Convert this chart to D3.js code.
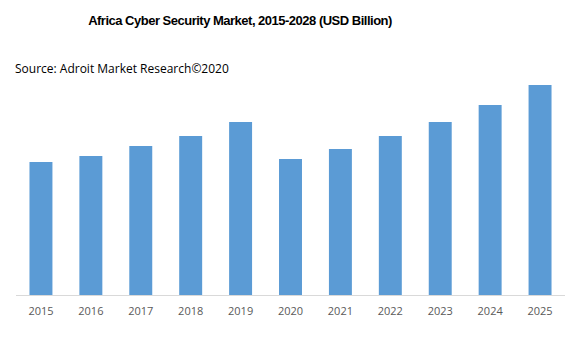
<!DOCTYPE html>
<html>
<head>
<meta charset="utf-8">
<script src="https://cdn.jsdelivr.net/npm/d3@7"></script>
<style>
  html, body { margin: 0; padding: 0; background: #fff; }
  svg { display: block; }
</style>
</head>
<body>
<svg id="chart" width="569" height="338"></svg>
<script>
// Africa cyber security market size by year (USD Billion)
const years = ["2015", "2016", "2017", "2018", "2019", "2020", "2021", "2022", "2023", "2024", "2025"];
const marketValues = [1.33, 1.39, 1.49, 1.59, 1.73, 1.36, 1.46, 1.59, 1.73, 1.90, 2.10];

const chartTitle = "Africa Cyber Security Market, 2015-2028 (USD Billion)";
const sourceNote = "Source: Adroit Market Research\u00A92020";

const svg = d3.select("#chart");
const plot = { left: 16, right: 565, top: 85, bottom: 295 };

const x = d3.scaleBand()
  .domain(years)
  .range([plot.left, plot.right])
  .paddingInner(0.54)
  .paddingOuter(0.27);

const y = d3.scaleLinear()
  .domain([0, d3.max(marketValues)])
  .range([plot.bottom, plot.top]);

// Title
svg.append("text")
  .attr("x", 240)
  .attr("y", 25)
  .attr("text-anchor", "middle")
  .attr("font-family", "'Liberation Sans', Arial, sans-serif")
  .attr("font-weight", "bold")
  .attr("font-size", 13)
  .attr("letter-spacing", -0.5)
  .attr("fill", "#000")
  .text(chartTitle);

// Source line
svg.append("text")
  .attr("x", 15)
  .attr("y", 73)
  .attr("font-family", "'Open Sans', sans-serif")
  .attr("font-size", 12)
  .attr("fill", "#000")
  .text(sourceNote);

// Bars
svg.append("g")
  .selectAll("rect")
  .data(years.map((yr, i) => ({ yr, v: marketValues[i] })))
  .join("rect")
  .attr("x", d => x(d.yr))
  .attr("width", x.bandwidth())
  .attr("y", d => y(d.v))
  .attr("height", d => y(0) - y(d.v))
  .attr("fill", "#5b9bd5");

// Category axis
const xAxis = svg.append("g")
  .attr("transform", `translate(0,${plot.bottom})`)
  .call(d3.axisBottom(x).tickSize(0).tickPadding(12));
xAxis.select(".domain")
  .attr("stroke", "#d9d9d9")
  .attr("stroke-width", 1)
  .attr("d", `M${plot.left},0.5H${plot.right}`);
xAxis.selectAll("text")
  .attr("font-family", "'Open Sans', sans-serif")
  .attr("font-size", 11)
  .attr("fill", "#595959");
</script>
</body>
</html>
